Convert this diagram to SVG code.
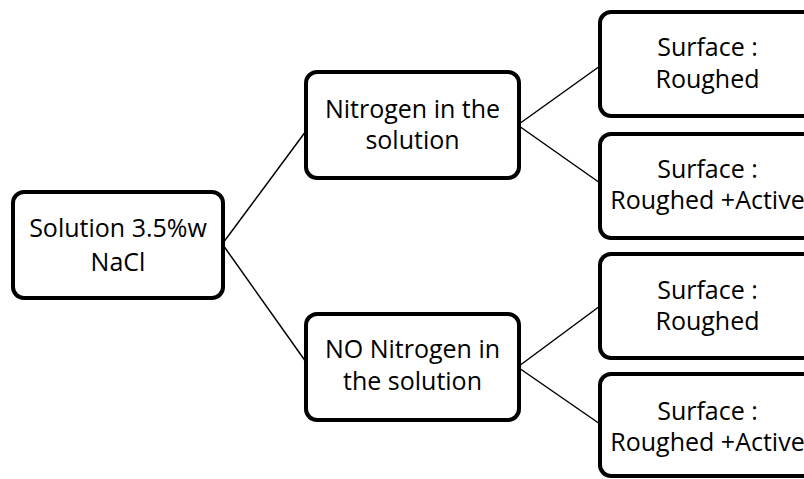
<svg xmlns="http://www.w3.org/2000/svg" width="804" height="479" viewBox="0 0 804 479">
<style>
.box{fill:#ffffff;stroke:#000000;stroke-width:4}
.lbl{font-family:"Open Sans","Liberation Sans",sans-serif;font-size:25px;fill:#000000;text-anchor:middle}
.conn{stroke:#000000;stroke-width:1.5;fill:none}
</style>
<rect width="804" height="479" fill="#ffffff"/>
<g id="connectors">
<line class="conn" x1="223" y1="243" x2="306" y2="131"/>
<line class="conn" x1="223" y1="245" x2="306" y2="362"/>
<line class="conn" x1="519" y1="124" x2="600" y2="66"/>
<line class="conn" x1="519" y1="126" x2="600" y2="183"/>
<line class="conn" x1="519" y1="366" x2="600" y2="306"/>
<line class="conn" x1="519" y1="368" x2="600" y2="424"/>
</g>
<g id="root">
<rect class="box" x="13" y="192" width="210" height="106" rx="11"/>
<text class="lbl" x="118" y="237">Solution 3.5%w</text>
<text class="lbl" x="118" y="271">NaCl</text>
</g>
<g id="nitrogen">
<rect class="box" x="306" y="72" width="213" height="106" rx="11"/>
<text class="lbl" x="412.5" y="118">Nitrogen in the</text>
<text class="lbl" x="412.5" y="149">solution</text>
</g>
<g id="no-nitrogen">
<rect class="box" x="306" y="314" width="213" height="106" rx="11"/>
<text class="lbl" x="412.5" y="358">NO Nitrogen in</text>
<text class="lbl" x="412.5" y="390">the solution</text>
</g>
<g id="s1">
<rect class="box" x="600" y="12" width="215" height="104" rx="11"/>
<text class="lbl" x="707.5" y="56">Surface :</text>
<text class="lbl" x="707.5" y="88">Roughed</text>
</g>
<g id="s2">
<rect class="box" x="600" y="134" width="215" height="104" rx="11"/>
<text class="lbl" x="707.5" y="178">Surface :</text>
<text class="lbl" x="707.5" y="209">Roughed +Active</text>
</g>
<g id="s3">
<rect class="box" x="600" y="254" width="215" height="104" rx="11"/>
<text class="lbl" x="707.5" y="299">Surface :</text>
<text class="lbl" x="707.5" y="330">Roughed</text>
</g>
<g id="s4">
<rect class="box" x="600" y="374" width="215" height="102" rx="11"/>
<text class="lbl" x="707.5" y="420">Surface :</text>
<text class="lbl" x="707.5" y="451">Roughed +Active</text>
</g>
</svg>
